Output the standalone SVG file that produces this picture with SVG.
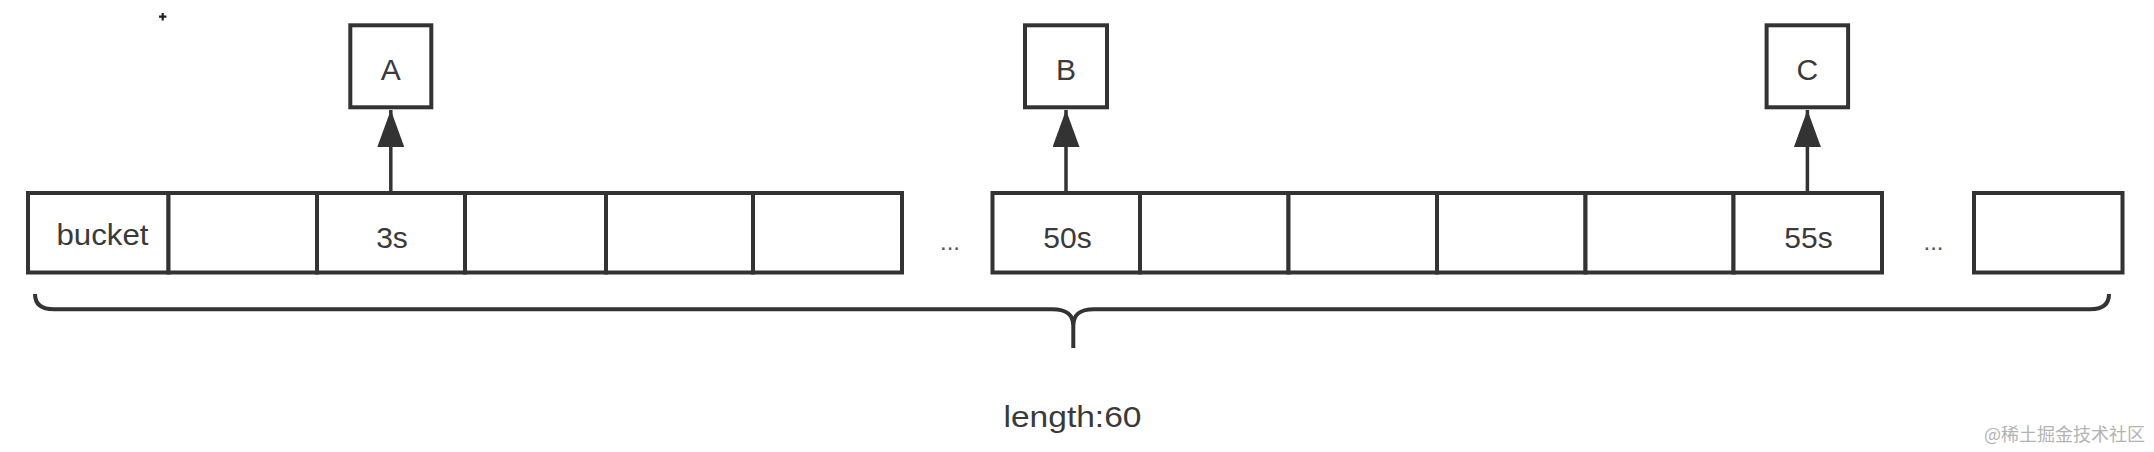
<svg xmlns="http://www.w3.org/2000/svg" width="2154" height="452" viewBox="0 0 2154 452">
<style>
.cell{fill:#fff;stroke:#333;stroke-width:4}
.box{fill:#fff;stroke:#333;stroke-width:4}
.lbl{font-family:"Liberation Sans",Arial,sans-serif;font-size:30px;fill:#3a3a3a;text-anchor:middle}
.conn{stroke:#333;stroke-width:3.5;fill:none}
.brace{stroke:#333;stroke-width:4;fill:none;stroke-linecap:butt}
.dots{font-family:"Liberation Sans",Arial,sans-serif;font-size:24px;fill:#555;text-anchor:middle}
</style>
<defs>
<marker id="arrow" markerUnits="userSpaceOnUse" markerWidth="37" markerHeight="27" viewBox="0 0 37 27" refX="37" refY="13.5" orient="auto">
<path d="M0,0 L37,13.5 L0,27 z" fill="#333"/>
</marker>
</defs>
<rect width="2154" height="452" fill="#fff"/>
<g id="mark">
<path d="M159,16.7 H166.4 M162.7,13 V20.4" stroke="#222" stroke-width="2.2"/>
</g>
<g id="node-A">
<rect class="box" x="350.3" y="25.3" width="81" height="82"/>
<text class="lbl" x="390.8" y="80" font-size="31">A</text>
</g>
<g id="node-B">
<rect class="box" x="1025" y="25.3" width="82" height="82"/>
<text class="lbl" x="1066" y="80" font-size="31">B</text>
</g>
<g id="node-C">
<rect class="box" x="1766.6" y="25.3" width="81.5" height="82"/>
<text class="lbl" x="1807.3" y="80" font-size="31">C</text>
</g>
<g id="array-seg1">
<rect class="cell" x="28" y="193" width="140.5" height="79.5"/>
<rect class="cell" x="168.5" y="193" width="148.5" height="79.5"/>
<rect class="cell" x="317" y="193" width="148" height="79.5"/>
<rect class="cell" x="465" y="193" width="141" height="79.5"/>
<rect class="cell" x="606" y="193" width="147" height="79.5"/>
<rect class="cell" x="753" y="193" width="149" height="79.5"/>
<text class="lbl" x="102.5" y="245" textLength="92" lengthAdjust="spacingAndGlyphs">bucket</text>
<text class="lbl" x="392" y="247.5">3s</text>
</g>
<text class="dots" x="950" y="249.5">...</text>
<g id="array-seg2">
<rect class="cell" x="992.5" y="193" width="147.5" height="79.5"/>
<rect class="cell" x="1140" y="193" width="148.5" height="79.5"/>
<rect class="cell" x="1288.5" y="193" width="148.5" height="79.5"/>
<rect class="cell" x="1437" y="193" width="148.5" height="79.5"/>
<rect class="cell" x="1585.5" y="193" width="148" height="79.5"/>
<rect class="cell" x="1733.5" y="193" width="148.5" height="79.5"/>
<text class="lbl" x="1067.5" y="247.5">50s</text>
<text class="lbl" x="1808.5" y="247.5">55s</text>
</g>
<text class="dots" x="1933.5" y="249.5">...</text>
<g id="array-seg3">
<rect class="cell" x="1974" y="193" width="148.5" height="79.5"/>
</g>
<g id="connectors">
<line class="conn" x1="390.8" y1="192" x2="390.8" y2="110" marker-end="url(#arrow)"/>
<line class="conn" x1="1066" y1="192" x2="1066" y2="110" marker-end="url(#arrow)"/>
<line class="conn" x1="1807.4" y1="192" x2="1807.4" y2="110" marker-end="url(#arrow)"/>
</g>
<g id="brace">
<path class="brace" d="M35,294 Q35,309.3 54,309.3 L1052,309.3 C1066,309.3 1073.3,314 1073.3,326 L1073.3,348 M1073.3,326 C1073.3,314 1080,309.3 1094,309.3 L2090,309.3 Q2109,309.3 2109,294"/>
<text class="lbl" x="1072.5" y="426.5" textLength="138" lengthAdjust="spacingAndGlyphs">length:60</text>
</g>
<text x="2145" y="441" font-family="'Noto Sans CJK SC','Liberation Sans',sans-serif" font-size="18" fill="#b3b3b3" text-anchor="end">@稀土掘金技术社区</text>
</svg>
